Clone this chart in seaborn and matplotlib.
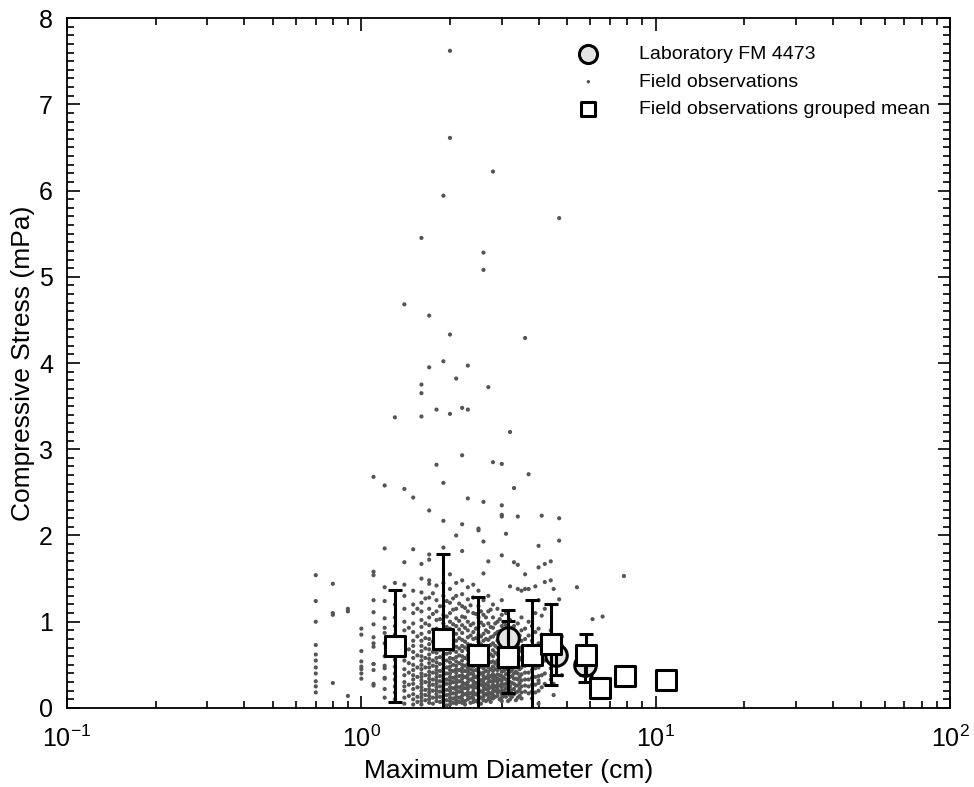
import matplotlib
matplotlib.use("Agg")
import matplotlib.pyplot as plt
import seaborn as sns
import pandas as pd
from matplotlib.ticker import LogLocator, MultipleLocator, LogFormatterMathtext, NullFormatter

# field observations: diameter column (cm) -> measured stresses (mPa)
field_d = [0.7, 0.8, 0.9, 1.0, 1.1, 1.2, 1.3, 1.4, 1.5, 1.6, 1.7, 1.8, 1.9, 2.0,
           2.1, 2.2, 2.3, 2.4, 2.5, 2.6, 2.7, 2.8, 2.9, 3.0, 3.1, 3.2, 3.3, 3.4,
           3.5, 3.6, 3.7, 3.8, 3.9, 4.0, 4.1, 4.2, 4.4, 4.5, 4.7, 4.8, 5.4, 6.1,
           6.6, 7.8]
field_s = [
    [1.54, 1.24, 1.00, 0.73, 0.62, 0.55, 0.47, 0.31, 0.18, 0.40, 0.25],
    [1.44, 1.10, 1.08, 0.29],
    [1.15, 1.12, 0.14],
    [0.92, 0.85, 0.66, 0.54, 0.45, 0.34, 0.40, 0.48],
    [2.68, 1.58, 1.54, 1.25, 1.11, 0.97, 0.82, 0.75, 0.71, 0.51, 0.44, 0.28, 0.26, 0.51],
    [2.58, 1.85, 1.40, 1.24, 1.04, 0.93, 0.87, 0.75, 0.46, 0.35, 0.49, 0.34, 0.22, 0.60, 0.12],
    [3.37, 1.45, 1.20, 1.05, 0.95, 0.85, 0.62, 0.56, 0.48, 0.40, 0.33, 0.25, 0.18, 0.10],
    [4.68, 2.54, 1.69, 1.43, 1.30, 1.15, 1.00, 0.90, 0.80, 0.70, 0.60, 0.55, 0.45, 0.38,
     0.30, 0.25, 0.20, 0.12, 0.05],
    [2.44, 1.84, 1.36, 1.20, 1.10, 0.98, 0.88, 0.78, 0.72, 0.65, 0.58, 0.50, 0.44, 0.38,
     0.33, 0.28, 0.22, 0.16, 0.10, 0.04],
    [5.45, 3.75, 3.65, 3.38, 1.67, 1.50, 1.34, 1.22, 1.12, 1.02, 0.94, 0.86, 0.78, 0.72,
     0.66, 0.60, 0.55, 0.50, 0.45, 0.40, 0.36, 0.32, 0.28, 0.24, 0.20, 0.16, 0.12, 0.08, 0.04],
    [4.55, 3.95, 2.29, 1.78, 1.72, 1.48, 1.44, 1.28, 1.15, 1.05, 0.96, 0.88, 0.80, 0.74,
     0.68, 0.62, 0.57, 0.52, 0.47, 0.42, 0.38, 0.34, 0.30, 0.26, 0.22, 0.18, 0.14, 0.10, 0.06],
    [3.46, 2.82, 1.42, 1.25, 1.12, 1.02, 0.92, 0.84, 0.77, 0.70, 0.64, 0.58, 0.53, 0.48,
     0.44, 0.40, 0.36, 0.32, 0.28, 0.24, 0.20, 0.16, 0.12, 0.08],
    [5.94, 4.02, 2.61, 2.17, 1.86, 1.45, 1.30, 1.18, 1.08, 0.98, 0.90, 0.82, 0.75, 0.68,
     0.62, 0.56, 0.51, 0.46, 0.42, 0.38, 0.34, 0.30, 0.26, 0.22, 0.18, 0.14, 0.10, 0.06],
    [7.62, 6.61, 4.33, 3.41, 1.55, 1.38, 1.22, 1.10, 1.00, 0.92, 0.84, 0.77, 0.70, 0.64,
     0.58, 0.53, 0.48, 0.44, 0.40, 0.36, 0.32, 0.28, 0.24, 0.20, 0.16, 0.12, 0.08, 0.04],
    [3.82, 2.00, 1.45, 1.30, 1.15, 1.04, 0.95, 0.86, 0.78, 0.71, 0.65, 0.59, 0.54, 0.49,
     0.45, 0.41, 0.37, 0.33, 0.29, 0.25, 0.21, 0.17, 0.13, 0.09, 0.05],
    [3.48, 2.93, 2.13, 1.82, 1.48, 1.32, 1.18, 1.06, 0.96, 0.87, 0.79, 0.72, 0.66, 0.60,
     0.55, 0.50, 0.46, 0.42, 0.38, 0.34, 0.30, 0.26, 0.22, 0.18, 0.14, 0.10, 0.06],
    [3.97, 3.46, 2.43, 1.40, 1.26, 1.12, 1.00, 0.90, 0.82, 0.74, 0.67, 0.61, 0.56, 0.51,
     0.46, 0.42, 0.38, 0.34, 0.30, 0.26, 0.22, 0.18, 0.14, 0.10],
    [1.43, 1.28, 1.10, 0.98, 0.88, 0.80, 0.72, 0.65, 0.59, 0.53, 0.48, 0.43, 0.39, 0.35,
     0.31, 0.27, 0.23, 0.19, 0.15, 0.11, 0.07],
    [2.08, 2.06, 1.36, 1.18, 1.05, 0.94, 0.85, 0.77, 0.70, 0.63, 0.57, 0.52, 0.47, 0.42,
     0.38, 0.34, 0.30, 0.26, 0.22, 0.18, 0.14, 0.10, 0.06],
    [5.28, 5.08, 2.39, 1.93, 1.56, 1.25, 1.08, 0.96, 0.86, 0.78, 0.70, 0.63, 0.57, 0.51,
     0.46, 0.41, 0.37, 0.33, 0.29, 0.25, 0.21, 0.17, 0.13, 0.09],
    [3.72, 1.70, 1.30, 1.12, 0.98, 0.88, 0.79, 0.71, 0.64, 0.58, 0.52, 0.47, 0.42, 0.38,
     0.34, 0.30, 0.26, 0.22, 0.18, 0.14, 0.10],
    [6.22, 2.85, 1.20, 1.05, 0.93, 0.83, 0.75, 0.67, 0.60, 0.54, 0.48, 0.43, 0.39, 0.35,
     0.31, 0.27, 0.23, 0.19, 0.15, 0.11],
    [1.15, 1.00, 0.88, 0.78, 0.70, 0.62, 0.55, 0.49, 0.44, 0.39, 0.34, 0.30, 0.26, 0.22,
     0.18, 0.14],
    [2.83, 2.35, 2.24, 2.22, 1.77, 1.25, 1.08, 0.95, 0.84, 0.75, 0.67, 0.60, 0.53, 0.47,
     0.42, 0.37, 0.32, 0.28, 0.24, 0.20, 0.16, 0.12, 0.08],
    [2.02, 1.10, 0.96, 0.85, 0.75, 0.66, 0.58, 0.51, 0.45, 0.39, 0.33, 0.28, 0.23, 0.18, 0.13],
    [3.20, 1.41, 1.02, 0.90, 0.79, 0.70, 0.62, 0.55, 0.48, 0.42, 0.36, 0.30, 0.25, 0.20,
     0.15, 0.10],
    [2.55, 1.69, 0.95, 0.83, 0.72, 0.63, 0.55, 0.47, 0.40, 0.34, 0.28, 0.22, 0.16],
    [2.22, 1.66, 1.38, 0.98, 0.86, 0.74, 0.64, 0.55, 0.47, 0.40, 0.33, 0.26, 0.19, 0.12],
    [1.36, 1.05, 0.90, 0.78, 0.66, 0.56, 0.47, 0.39, 0.32, 0.25, 0.18, 0.11],
    [4.29, 1.55, 1.38, 0.92, 0.80, 0.68, 0.58, 0.49, 0.41, 0.33, 0.26, 0.19],
    [2.71, 1.38, 1.00, 0.84, 0.71, 0.60, 0.50, 0.41, 0.33, 0.25, 0.17],
    [0.95, 0.78, 0.65, 0.54, 0.44, 0.35, 0.27, 0.19, 0.11],
    [1.41, 1.10, 0.88, 0.72, 0.58, 0.46, 0.36, 0.27, 0.18],
    [1.88, 1.63, 1.25, 0.92, 0.75, 0.60, 0.47, 0.37, 0.32, 0.29, 0.20, 0.05],
    [2.23, 1.07, 0.85, 0.66, 0.50, 0.38, 0.24],
    [1.67, 1.46, 1.15, 0.80, 0.55, 0.40, 0.28],
    [1.70, 1.48, 0.90, 0.62, 0.46, 0.33],
    [1.38, 0.70, 0.15, 0.28],
    [5.68, 2.20, 1.94, 1.26, 0.52],
    [0.72, 0.38],
    [1.40],
    [1.03],
    [1.06],
    [1.53],
]

# in-between diameters of the dense cluster (readings recorded to 0.05 cm)
extra_d = [1.45, 1.55, 1.65, 1.75, 1.85, 1.95, 2.05, 2.15, 2.25, 2.35, 2.45,
           2.55, 2.65, 2.75, 2.85, 2.95, 3.05, 3.15, 3.25, 3.35, 3.45]
extra_s = [
    [0.93, 0.68, 0.52, 0.41, 0.27, 0.14],
    [1.15, 0.83, 0.61, 0.47, 0.36, 0.24, 0.13, 0.07],
    [1.27, 0.98, 0.81, 0.69, 0.58, 0.47, 0.38, 0.30, 0.21, 0.15, 0.09],
    [1.33, 1.09, 0.91, 0.77, 0.65, 0.55, 0.49, 0.41, 0.33, 0.27, 0.20, 0.12, 0.05],
    [1.18, 1.03, 0.87, 0.79, 0.67, 0.59, 0.51, 0.43, 0.37, 0.31, 0.25, 0.19, 0.13, 0.07],
    [1.24, 1.06, 0.94, 0.85, 0.71, 0.63, 0.55, 0.47, 0.40, 0.33, 0.28, 0.21, 0.15, 0.09, 0.03],
    [1.27, 1.14, 0.97, 0.88, 0.74, 0.67, 0.57, 0.50, 0.43, 0.35, 0.30, 0.23, 0.17, 0.11, 0.06],
    [1.21, 1.01, 0.91, 0.81, 0.69, 0.61, 0.52, 0.44, 0.37, 0.31, 0.24, 0.19, 0.12, 0.07],
    [1.16, 1.05, 0.93, 0.77, 0.70, 0.58, 0.49, 0.43, 0.36, 0.28, 0.23, 0.16, 0.08, 0.04],
    [1.19, 0.96, 0.84, 0.73, 0.64, 0.54, 0.45, 0.40, 0.33, 0.25, 0.17, 0.12, 0.06],
    [1.09, 0.92, 0.81, 0.69, 0.61, 0.50, 0.44, 0.36, 0.29, 0.24, 0.16, 0.08],
    [1.12, 0.99, 0.83, 0.74, 0.66, 0.55, 0.48, 0.40, 0.32, 0.27, 0.19, 0.12, 0.05],
    [1.05, 0.90, 0.80, 0.67, 0.60, 0.49, 0.43, 0.35, 0.27, 0.22, 0.16, 0.08],
    [1.14, 0.94, 0.82, 0.73, 0.62, 0.53, 0.45, 0.37, 0.31, 0.24, 0.17, 0.12, 0.07],
    [0.98, 0.86, 0.72, 0.64, 0.52, 0.45, 0.37, 0.32, 0.25, 0.20, 0.13],
    [1.03, 0.89, 0.76, 0.65, 0.57, 0.46, 0.38, 0.33, 0.26, 0.19, 0.10],
    [0.99, 0.82, 0.70, 0.61, 0.50, 0.43, 0.35, 0.27, 0.20, 0.14],
    [0.91, 0.80, 0.67, 0.57, 0.49, 0.40, 0.31, 0.23, 0.17, 0.08],
    [0.93, 0.77, 0.66, 0.53, 0.44, 0.37, 0.29, 0.21, 0.13],
    [0.88, 0.74, 0.61, 0.50, 0.42, 0.34, 0.26, 0.18, 0.09],
    [0.84, 0.70, 0.58, 0.45, 0.36, 0.29, 0.22, 0.14],
]

# grouped means of field data
mean_d = [1.30, 1.89, 2.50, 3.16, 3.81, 4.42, 5.78, 6.45, 7.84, 10.8]
mean_s = [0.72, 0.80, 0.61, 0.59, 0.61, 0.74, 0.62, 0.23, 0.37, 0.33]
mean_err = [0.65, 0.99, 0.68, 0.42, 0.64, 0.47, 0.24, 0.12, 0.0, 0.0]

# laboratory tests FM 4473
lab_d = [3.16, 4.60, 5.75]
lab_s = [0.81, 0.61, 0.50]
lab_err = [0.33, 0.23, 0.20]

rows = [(d, s) for d, col in zip(field_d + extra_d, field_s + extra_s) for s in col]
field = pd.DataFrame(rows, columns=["d", "s"])
means = pd.DataFrame({"d": mean_d, "s": mean_s, "err": mean_err})
lab = pd.DataFrame({"d": lab_d, "s": lab_s, "err": lab_err})

sns.set_style("ticks")
plt.rcParams["font.family"] = ["Liberation Sans", "DejaVu Sans"]
plt.rcParams["mathtext.fontset"] = "custom"
plt.rcParams["mathtext.rm"] = "Liberation Sans"
plt.rcParams["mathtext.default"] = "regular"
plt.rcParams["text.color"] = "black"
plt.rcParams["axes.labelcolor"] = "black"

fig = plt.figure(figsize=(9.74, 7.87), dpi=100)
ax = fig.add_axes([0.0688, 0.1004, 0.9066, 0.8767])

# lab circles (behind the error bars)
ax.errorbar(lab["d"], lab["s"], yerr=lab["err"], fmt="none", ecolor="black",
            elinewidth=2.2, capsize=5, capthick=2.2, zorder=3)
sns.scatterplot(data=lab, x="d", y="s", ax=ax, marker="o", s=240,
                facecolor="#e4e4e4", edgecolor="black", linewidth=2.2,
                label="Laboratory FM 4473", zorder=2)

sns.scatterplot(data=field, x="d", y="s", ax=ax, marker="o", s=9,
                color="#555555", edgecolor="none", linewidth=0,
                label="Field observations", zorder=1)

ax.errorbar(means["d"], means["s"], yerr=means["err"], fmt="none", ecolor="black",
            elinewidth=2.2, capsize=5, capthick=2.2, zorder=4)
sns.scatterplot(data=means, x="d", y="s", ax=ax, marker="s", s=210,
                facecolor="white", edgecolor="black", linewidth=2.2,
                label="Field observations grouped mean", zorder=5)

ax.set_xscale("log")
ax.set_xlim(0.1, 100)
ax.set_ylim(0, 8)
ax.xaxis.set_major_locator(LogLocator(base=10, numticks=10))
ax.xaxis.set_minor_locator(LogLocator(base=10, subs=range(2, 10), numticks=50))
ax.xaxis.set_major_formatter(LogFormatterMathtext())
ax.xaxis.set_minor_formatter(NullFormatter())
ax.yaxis.set_major_locator(MultipleLocator(1))
ax.yaxis.set_minor_locator(MultipleLocator(0.1))

ax.tick_params(which="both", direction="in", top=True, right=True,
               labelsize=18, width=1.2, colors="black")
ax.tick_params(which="major", length=9)
ax.tick_params(which="minor", length=5)
ax.tick_params(axis="x", which="major", pad=13)
ax.tick_params(axis="y", which="major", pad=10)
for sp in ax.spines.values():
    sp.set_linewidth(1.3)
    sp.set_color("black")

ax.set_xlabel("Maximum Diameter (cm)", fontsize=19, labelpad=5)
ax.set_ylabel("Compressive Stress (mPa)", fontsize=19, labelpad=3)

leg = ax.legend(loc="upper right", bbox_to_anchor=(0.997, 0.985), frameon=False,
                fontsize=14, handletextpad=1.6, labelspacing=0.5)
sizes = [170, 6, 110]
for h, sz in zip(leg.legend_handles, sizes):
    h.set_sizes([sz])

fig.savefig("out.png", dpi=100)
